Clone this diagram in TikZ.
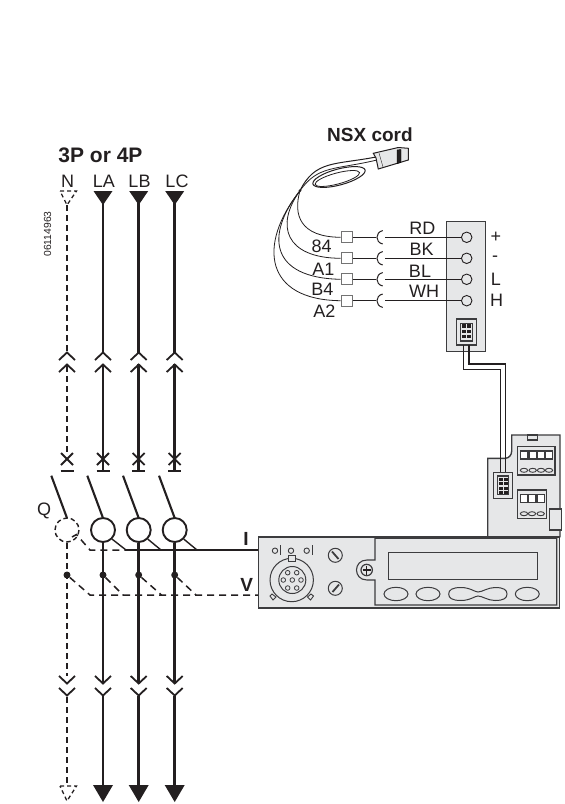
\documentclass[tikz,border=0pt]{standalone}
\usepackage{fontspec}
\setmainfont{Liberation Sans}
\definecolor{ink}{HTML}{231F20}
\definecolor{panel}{HTML}{E6E7E8}
\definecolor{edge}{HTML}{3C3C3E}
\tikzset{
  lab/.style={inner sep=0pt,text=ink,font=\fontsize{18}{18}\selectfont},
  boldlab/.style={lab,font=\fontsize{19}{19}\selectfont\bfseries},
  phase/.style={draw=ink,line width=2.6pt},
  neutral/.style={draw=ink,line width=1.3pt,dash pattern=on 6pt off 4pt},
  sense/.style={draw=ink,line width=1.5pt,dash pattern=on 7pt off 5pt},
  ring/.style={circle,draw=ink,line width=1.9pt,minimum size=24pt,inner sep=0pt},
  dotnode/.style={circle,fill=ink,minimum size=7pt,inner sep=0pt},
  wirebox/.style={draw=black!55,fill=white,line width=1.1pt,minimum size=11pt,inner sep=0pt},
  term/.style={circle,draw=ink,fill=panel,line width=0.9pt,minimum size=10.5pt,inner sep=0pt},
  wire/.style={draw=ink,line width=0.8pt},
  boxline/.style={draw=edge,line width=1.2pt}
}
\begin{document}
\begin{tikzpicture}[x=1pt,y=-1pt]
\useasboundingbox (0,0) rectangle (565,804);
% phase conductors
\foreach \n/\x in {A/103,B/138.7,C/174.7} {
\fill[ink] (\x-9.5,191) -- (\x+9.5,191) -- (\x,205) -- cycle;
\draw[phase] (\x,203) -- (\x,353);
\draw[phase] (\x,364) -- (\x,471);
\draw[line width=1.8pt,ink] (\x-8,360) -- (\x,352.5) -- (\x+8,360);
\draw[line width=1.8pt,ink] (\x-8,372) -- (\x,364.5) -- (\x+8,372);
\draw[line width=1.8pt,ink] (\x-6,453) -- (\x+6,465);
\draw[line width=1.8pt,ink] (\x+6,453) -- (\x-6,465);
\draw[line width=2pt,ink] (\x-6.5,471) -- (\x+6.5,471);
\draw[line width=2.1pt,ink] (\x-15.7,475.7) -- (\x,518);
\node[ring] (ring\n) at (\x,530) {};
\draw[phase] (ring\n.south) -- (\x,683);
\node[dotnode] (dot\n) at (\x,575) {};
\draw[line width=1.8pt,ink] (\x-8,676) -- (\x,683.5) -- (\x+8,676);
\draw[line width=1.8pt,ink] (\x-8,688) -- (\x,695.5) -- (\x+8,688);
\draw[phase] (\x,696) -- (\x,787);
\fill[ink] (\x-10,785) -- (\x+10,785) -- (\x,802) -- cycle;
}
% neutral
\draw[neutral] (67,205) -- (67,352);
\draw[neutral] (67,366) -- (67,452);
\draw[neutral,dash pattern=on 4pt off 3pt] (60,191) -- (76.5,191) -- (67,205) -- cycle;
\draw[line width=1.8pt,ink] (59,360) -- (67,352.5) -- (75,360);
\draw[line width=1.8pt,ink] (59,372) -- (67,364.5) -- (75,372);
\draw[line width=1.8pt,ink] (61,453) -- (73,465);
\draw[line width=1.8pt,ink] (73,453) -- (61,465);
\draw[line width=2pt,ink] (60.5,471) -- (73.5,471);
\draw[line width=2.1pt,ink] (51.3,475.7) -- (67,518);
\draw[line width=1.4pt,ink,dash pattern=on 4.5pt off 3pt] (67,530) circle [radius=12];
\draw[neutral] (67,543) -- (67,676);
\node[dotnode] (dotN) at (67,575) {};
\draw[line width=1.8pt,ink] (59,676) -- (67,683.5) -- (75,676);
\draw[line width=1.8pt,ink] (59,688) -- (67,695.5) -- (75,688);
\draw[neutral] (67,697) -- (67,785);
\draw[neutral,dash pattern=on 4pt off 3pt] (60,786) -- (76.5,786) -- (67,801) -- cycle;
% current and voltage links
\coordinate (unitI) at (258,550);
\coordinate (unitV) at (258,595);
\draw[line width=1.5pt,ink] (126,550) -- (unitI);
\draw[line width=1.4pt,ink] (ringA.-45) -- (126,550);
\draw[line width=1.4pt,ink] (ringB.-45) -- (161,550);
\draw[line width=1.4pt,ink] (ringC.-45) -- (197,550);
\draw[sense] (72,537) -- (76.5,534.5) -- (90,550) -- (126,550);
\draw[sense] (dotN) -- (90,595) -- (unitV);
\draw[sense] (dotA) -- (123,595);
\draw[sense] (dotB) -- (161.5,595);
\draw[sense] (dotC) -- (196,595);
% labels left
\node[boldlab,font=\fontsize{21}{21}\selectfont\bfseries] (title) at (100.5,155.5) {3P or 4P};
\node[lab] (labN) at (67.7,181) {N};
\node[lab] (labA) at (104,181) {LA};
\node[lab] (labB) at (139.5,181) {LB};
\node[lab] (labC) at (177,181) {LC};
\node[lab,font=\fontsize{10.3}{10.3}\selectfont,rotate=90] (ref) at (47.7,234) {06114963};
\node[lab] (labQ) at (44,510.7) {Q};
\node[boldlab] (labI) at (246,539) {I};
\node[boldlab] (labV) at (246.7,585) {V};
% cord
\node[boldlab] (cord) at (370,135) {NSX cord};
\coordinate (fan) at (300,190.7);
\coordinate (plug) at (377,160);
\draw[wire,line width=1pt,rotate around={15:(339,177)}] (339,177) ellipse [x radius=27,y radius=8];
\draw[wire,rotate around={15:(339,177)}] (337,178) ellipse [x radius=23,y radius=5.5];
\draw[wire] (fan) .. controls (318,165) and (335,170) .. (plug);
\draw[wire,line width=1pt] (fan) .. controls (315,160) and (335,165) .. (376,157);
\draw[fill=panel,draw=ink,line width=1pt] (373.3,153.3) -- (398.3,147.5) -- (408.3,148.3) -- (408.3,160) -- (378.3,169) -- (376,158) -- cycle;
\draw[fill=ink] (397,150) -- (401,149.5) -- (401,162.5) -- (397,163.5) -- cycle;
\draw[ink] (379,153) -- (383,167);
\fill[ink] (fan) circle [radius=1.5];
% panel with terminals
\node[draw=edge,fill=panel,line width=1.1pt,minimum width=39pt,minimum height=130pt,inner sep=0pt] (termpanel) at (466.2,286.7) {};
\foreach \i/\y/\p/\pw/\q/\qx/\qy in {1/237.3/+/496/84/321.7/246,2/258.3/-/495/A1/323.3/269,3/279.3/L/496/B4/322.3/289,4/300.7/H/496.5/A2/324.3/311.7} {
\node[wirebox] (box\i) at (346.7,\y) {};
\node[term] (term\i) at (466.7,\y) {};
\coordinate (cup\i) at (376,\y);
\draw[wire] (box\i) -- (cup\i);
\draw[wire,line width=1pt] (382.7,\y-6.7) .. controls (375,\y-5) and (375,\y+5) .. (382.7,\y+6.7);
\coordinate (lead\i) at (385,\y);
\draw[wire] (lead\i) -- (term\i);
\node[lab] (side\i) at (\pw,\y) {\p};
\node[lab] (code\i) at (\qx,\qy) {\q};
}
\node[lab] (colRD) at (422.3,228) {RD};
\node[lab] (colBK) at (421.7,249.5) {BK};
\node[lab] (colBL) at (420,271) {BL};
\node[lab] (colWH) at (424,291.5) {WH};
\draw[wire] (fan) .. controls (293,215) and (300,237) .. (box1.west);
\draw[wire] (fan) .. controls (275,225) and (285,258) .. (box2.west);
\draw[wire] (fan) .. controls (265,235) and (270,278) .. (box3.west);
\draw[wire] (fan) .. controls (257,245) and (265,300) .. (box4.west);
% trip unit body
\draw[boxline,fill=panel,line width=1.4pt] (487.7,536.7) -- (487.7,458.3) -- (505,458.3) .. controls (509,458.3) and (511.7,455) .. (511.7,451) -- (511.7,435) -- (560,435) -- (560,536.7) -- cycle;
\draw[boxline,fill=panel] (527.7,435) rectangle (537.7,440);
\draw[boxline,fill=panel] (549.3,509) rectangle (561.7,530);
\draw[boxline,fill=panel] (517.3,446.7) rectangle (555,475);
\draw[boxline,fill=panel] (517.3,490) rectangle (546.7,518.3);
\foreach \x in {524,532.7,541,549} {
\draw[boxline,fill=white] (\x-3.7,451) rectangle (\x+3.7,459);
\draw[edge,line width=0.9pt] (\x,470.3) ellipse [x radius=3.7,y radius=2];
}
\foreach \x in {524,532,540.7} {
\draw[boxline,fill=white] (\x-3.7,494.3) rectangle (\x+3.7,502.3);
\draw[edge,line width=0.9pt] (\x,513.7) ellipse [x radius=3.7,y radius=2];
}
% display module
\draw[draw=edge,fill=panel,line width=1.6pt] (258.3,536.7) rectangle (559.3,607.7);
\draw[boxline,line width=1.1pt] (375,560) -- (375,538.3) -- (556.7,538.3) -- (556.7,605) -- (375,605) -- (375,580) -- (367,580) .. controls (353,580) and (353,560) .. (367,560) -- cycle;
\draw[boxline] (366.7,570) circle [radius=5.7];
\draw[ink,line width=1.1pt] (362.5,570) -- (371,570);
\draw[ink,line width=1.1pt] (366.7,565.5) -- (366.7,574.5);
\draw[boxline,line width=1.1pt] (388.3,552.7) rectangle (537.3,579.3);
\foreach \x in {396,428,527.3} {
\draw[edge,line width=1pt] (\x,594) ellipse [x radius=12,y radius=6.7];
}
\draw[edge,line width=1pt] (461,587.5) .. controls (470,587.5) and (475,592) .. (478,592) .. controls (482,592) and (488,587.5) .. (495,587.5) .. controls (504,587.5) and (507,590) .. (507,594) .. controls (507,598) and (504,600.5) .. (495,600.5) .. controls (488,600.5) and (482,596) .. (478,596) .. controls (475,596) and (470,600.5) .. (461,600.5) .. controls (452,600.5) and (448.7,598) .. (448.7,594) .. controls (448.7,590) and (452,587.5) .. (461,587.5);
% front face
\foreach \x in {275,291,306.7} {
\draw[edge,line width=0.9pt] (\x,550.7) circle [radius=2.7];
}
\draw[edge,line width=1pt] (280,545) -- (280,555);
\draw[edge,line width=1pt] (312.3,545) -- (312.3,555);
\draw[edge,line width=1pt] (291.7,580) circle [radius=21.7];
\draw[edge,fill=panel,line width=0.9pt] (288.5,555.5) rectangle (295,561);
\draw[edge,fill=panel,line width=0.9pt] (272,594) -- (276,597) -- (273,600) -- (270,596) -- cycle;
\draw[edge,fill=panel,line width=0.9pt] (311,594) -- (307.5,597) -- (310.5,600) -- (313.5,596) -- cycle;
\draw[edge,line width=1pt] (292.3,580) circle [radius=13.5];
\foreach \x/\y in {287.7/572.7,296.7/572.7,283.3/580,292.3/580,301/580,287.7/588,296.7/588} {
\draw[edge,line width=0.8pt] (\x,\y) circle [radius=2.3];
}
\foreach \y in {555.3,588.3} {
\draw[edge,line width=1pt] (335.3,\y) circle [radius=7];
}
\draw[edge,line width=1.8pt] (332,551.5) -- (338.5,559);
\draw[edge,line width=1.8pt] (339,584.5) -- (332.5,592);
% connector on the panel
\draw[boxline,line width=1.4pt] (456.7,319) rectangle (476.7,345);
\draw[boxline,line width=1.4pt] (460.7,323.3) rectangle (472.3,341);
\foreach \x in {464.2,469} { \foreach \y in {326,331.5,336.5} {
\fill[ink] (\x-1.8,\y-1.8) rectangle (\x+1.8,\y+1.8);
} }
% ribbon between connectors
\draw[wire,line width=1.2pt] (463.3,345) -- (463.3,369.3) -- (500.7,369.3) -- (500.7,473);
\draw[wire,line width=1.2pt] (469,345) -- (469,364) -- (505.7,364) -- (505.7,473);
\draw[boxline,line width=1.4pt] (493.3,472.7) rectangle (512.7,498.3);
\draw[boxline,line width=1.4pt] (497.7,476) rectangle (508.3,494.3);
\foreach \x in {500.7,505.7} { \foreach \y in {479,483.5,488,492} {
\fill[ink] (\x-1.8,\y-1.5) rectangle (\x+1.8,\y+1.5);
} }
\end{tikzpicture}
\end{document}
